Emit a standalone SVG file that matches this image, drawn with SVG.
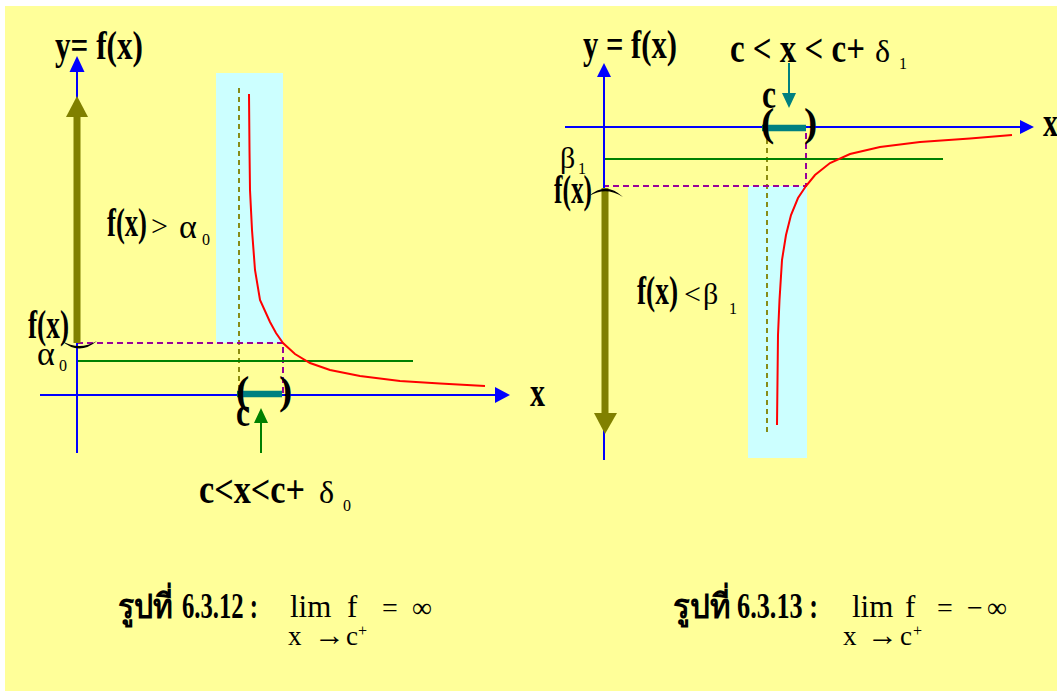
<svg xmlns="http://www.w3.org/2000/svg" width="1057" height="691" viewBox="0 0 1057 691">
<defs>
<style>
.bg{fill:#FFFF99}
.band{fill:#CCFFFF}
.axis{stroke:#0000FF;stroke-width:2;fill:none}
.axhead{fill:#0000FF}
.lvl{stroke:#008000;stroke-width:2;fill:none}
.odash{stroke:#808000;stroke-width:1.8;stroke-dasharray:5 4;fill:none}
.pdash{stroke:#990099;stroke-width:2;stroke-dasharray:6 4;fill:none}
.curve{stroke:#FF0000;stroke-width:2;fill:none}
.olive{fill:#808000}
.teal{stroke:#008080;stroke-width:6.5}
.tealf{fill:#008080}
.grn{fill:#008000}
.b{font-family:'Liberation Serif','DejaVu Serif',serif;font-weight:bold;fill:#000}
.r{font-family:'Liberation Serif','DejaVu Serif',serif;fill:#000}
</style>
</defs>
<rect class="bg" x="5" y="6" width="1052" height="685"/>

<g id="left-graph">
<rect class="band" x="216" y="73" width="67" height="270"/>
<line class="odash" x1="239" y1="88" x2="239" y2="393"/>
<polyline class="pdash" points="77,343 283,343 283,393"/>
<line class="lvl" x1="77" y1="361" x2="413" y2="361"/>
<line class="axis" x1="77" y1="72" x2="77" y2="453"/>
<polygon class="axhead" points="69.5,72 84.5,72 77,56"/>
<line class="axis" x1="40" y1="395" x2="496" y2="395"/>
<polygon class="axhead" points="495,387 495,403 510,395"/>
<polyline class="curve" points="249,94 249.5,150 250,190 252,230 255,270 260,300 270,322 276,333 283,343 295,354 310,363 330,370 360,376 400,381 440,383.5 485,386"/>
<line class="teal" x1="237" y1="394" x2="282" y2="394"/>
<rect class="olive" x="73.5" y="115" width="7" height="228"/>
<polygon class="olive" points="66,117 88,117 77,96"/>
<path d="M62,341 Q79,356 97,341 Q79,351 62,341 Z" fill="#000"/>
<line x1="261" y1="420" x2="261" y2="453" stroke="#008000" stroke-width="2"/>
<polygon class="grn" points="254,423 268,423 261,408"/>
<text class="b" x="55" y="59" font-size="40" textLength="88" lengthAdjust="spacingAndGlyphs">y= f(x)</text>
<text class="b" x="107" y="236" font-size="40" textLength="40" lengthAdjust="spacingAndGlyphs">f(x)</text>
<text class="r" x="151" y="236" font-size="30">&gt;</text>
<text class="r" x="179" y="238" font-size="34">α</text>
<text class="r" x="202" y="245" font-size="16">0</text>
<text class="b" x="28" y="338" font-size="40" textLength="41" lengthAdjust="spacingAndGlyphs">f(x)</text>
<text class="r" x="37" y="365" font-size="34">α</text>
<text class="r" x="59" y="371" font-size="16">0</text>
<text class="b" x="236" y="404" font-size="40">(</text>
<text class="b" x="279" y="404" font-size="40">)</text>
<text class="b" x="236" y="426" font-size="40" textLength="14" lengthAdjust="spacingAndGlyphs">c</text>
<text class="b" x="530" y="406" font-size="40" textLength="15" lengthAdjust="spacingAndGlyphs">x</text>
<text class="b" x="199" y="503" font-size="40" textLength="106" lengthAdjust="spacingAndGlyphs">c&lt;x&lt;c+</text>
<text class="r" x="319" y="503" font-size="32">δ</text>
<text class="r" x="343" y="511" font-size="16">0</text>
</g>

<g id="right-graph">
<rect class="band" x="748" y="186" width="59" height="272"/>
<line class="odash" x1="767" y1="130" x2="767" y2="435"/>
<polyline class="pdash" points="603,186 806,186 806,130"/>
<line class="lvl" x1="603" y1="159" x2="943" y2="159"/>
<line class="axis" x1="604" y1="77" x2="604" y2="460"/>
<polygon class="axhead" points="597,77 611,77 604,63"/>
<line class="axis" x1="565" y1="127" x2="1021" y2="127"/>
<polygon class="axhead" points="1020,120 1020,134 1034,127"/>
<polyline class="curve" points="777,425 777.5,380 778,335 779.5,300 782,260 786,235 791,215 798,198 806,186 815,175 830,163 850,154 880,147 920,142 970,138.5 1012,135"/>
<line class="teal" x1="762" y1="128" x2="806" y2="128"/>
<rect class="olive" x="601.5" y="188" width="7" height="227"/>
<polygon class="olive" points="594,413 617,413 605,434"/>
<path d="M589,196 Q606,181 623,197 Q606,186 589,196 Z" fill="#000"/>
<line x1="789" y1="63" x2="789" y2="95" stroke="#008080" stroke-width="2"/>
<polygon class="tealf" points="782,93 796,93 789,108"/>
<text class="b" x="583" y="58" font-size="40" textLength="94" lengthAdjust="spacingAndGlyphs">y = f(x)</text>
<text class="b" x="730" y="62" font-size="40" textLength="135" lengthAdjust="spacingAndGlyphs">c &lt; x &lt; c+</text>
<text class="r" x="875" y="62" font-size="32">δ</text>
<text class="r" x="899" y="69" font-size="16">1</text>
<text class="b" x="762" y="108" font-size="40" textLength="14" lengthAdjust="spacingAndGlyphs">c</text>
<text class="b" x="761" y="136" font-size="40">(</text>
<text class="b" x="804" y="136" font-size="40">)</text>
<text class="b" x="1043" y="136" font-size="40" textLength="15" lengthAdjust="spacingAndGlyphs">x</text>
<text class="r" x="560" y="168" font-size="30">β</text>
<text class="r" x="578" y="174" font-size="16">1</text>
<text class="b" x="554" y="203" font-size="40" textLength="38" lengthAdjust="spacingAndGlyphs">f(x)</text>
<text class="b" x="637" y="304" font-size="40" textLength="41" lengthAdjust="spacingAndGlyphs">f(x)</text>
<text class="r" x="684" y="304" font-size="30">&lt;</text>
<text class="r" x="703" y="304" font-size="30">β</text>
<text class="r" x="729" y="314" font-size="16">1</text>
</g>

<g id="caption-left">
<text class="b" x="118" y="618" font-size="34" textLength="55" lengthAdjust="spacingAndGlyphs">รูปที่</text>
<text class="b" x="182" y="618" font-size="36" textLength="76" lengthAdjust="spacingAndGlyphs">6.3.12 :</text>
<text class="r" x="290" y="617" font-size="31">lim</text>
<text class="r" x="347" y="617" font-size="31">f</text>
<text class="r" x="382" y="617" font-size="28">=</text>
<text class="r" x="412" y="617" font-size="28">∞</text>
<text class="r" x="288" y="645" font-size="27">x</text>
<text class="r" x="314" y="645" font-size="30" textLength="31" lengthAdjust="spacingAndGlyphs">→</text>
<text class="r" x="346" y="645" font-size="27">c</text>
<text class="r" x="358" y="636" font-size="16">+</text>
</g>

<g id="caption-right">
<text class="b" x="673" y="618" font-size="34" textLength="57" lengthAdjust="spacingAndGlyphs">รูปที่</text>
<text class="b" x="737" y="618" font-size="36" textLength="81" lengthAdjust="spacingAndGlyphs">6.3.13 :</text>
<text class="r" x="852" y="617" font-size="31">lim</text>
<text class="r" x="905" y="617" font-size="31">f</text>
<text class="r" x="937" y="617" font-size="28">=</text>
<text class="r" x="967" y="617" font-size="28">−</text>
<text class="r" x="987" y="617" font-size="28">∞</text>
<text class="r" x="843" y="645" font-size="27">x</text>
<text class="r" x="867" y="645" font-size="30" textLength="31" lengthAdjust="spacingAndGlyphs">→</text>
<text class="r" x="900" y="645" font-size="27">c</text>
<text class="r" x="913" y="636" font-size="16">+</text>
</g>
</svg>
